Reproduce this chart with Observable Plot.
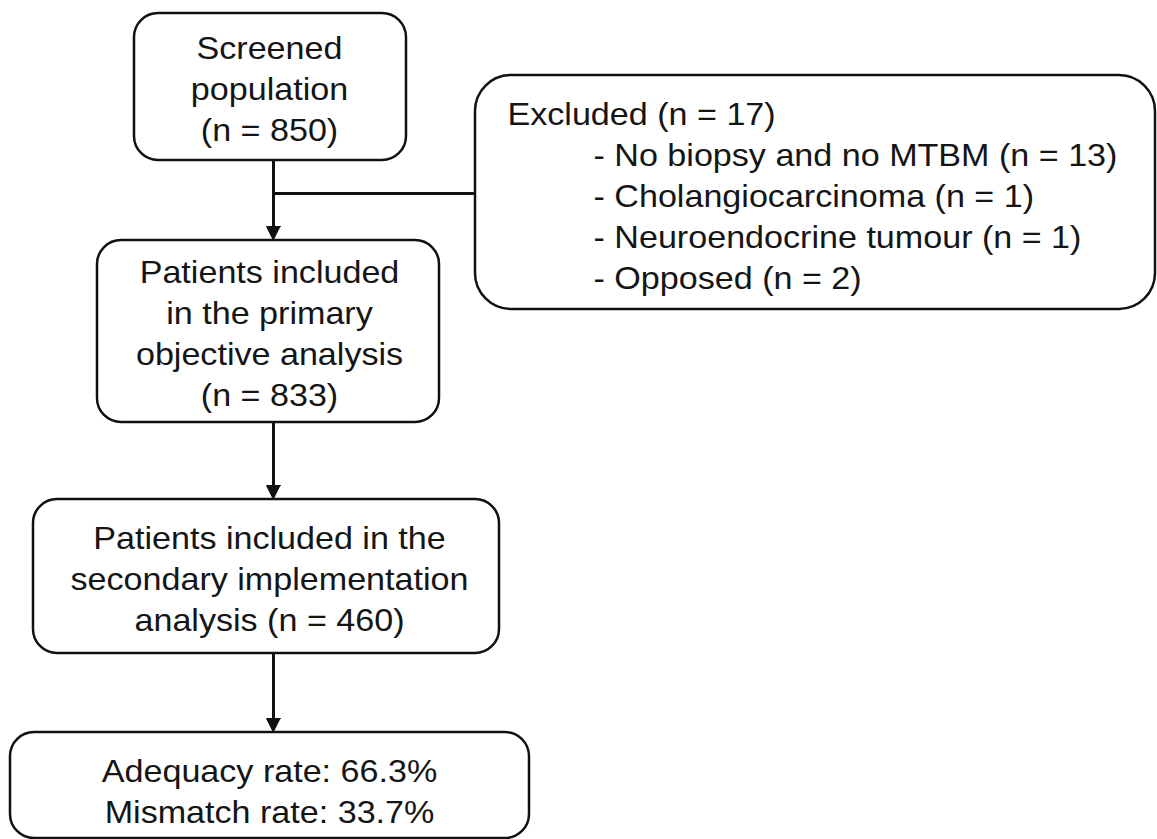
<!DOCTYPE html>
<html><head><meta charset="utf-8">
<script src="https://cdn.jsdelivr.net/npm/d3@7"></script>
<script src="https://cdn.jsdelivr.net/npm/@observablehq/plot@0.6"></script>
<style>body{margin:0;background:#fff} svg{display:block}</style>
</head><body><div id="chart"></div>
<script>
// ---- values ----
const screenedN = 850;
const primaryN = 833;
const secondaryN = 460;
const adequacyRate = 66.3;
const mismatchRate = 33.7;
const excludedN = 17;
const exclusionReasons = ["No biopsy and no MTBM", "Cholangiocarcinoma", "Neuroendocrine tumour", "Opposed"];
const exclusionCounts = [13, 1, 1, 2];

// ---- node labels ----
const nodeIds = ["screened", "primary", "secondary", "rates"];
const nodeLabels = [
  `Screened\npopulation\n(n = ${screenedN})`,
  `Patients included\nin the primary\nobjective analysis\n(n = ${primaryN})`,
  `Patients included in the\nsecondary implementation\nanalysis (n = ${secondaryN})`,
  `Adequacy rate: ${adequacyRate}%\nMismatch rate: ${mismatchRate}%`
];
const excludedHeader = `Excluded (n = ${excludedN})`;
const excludedLines = exclusionReasons.map((r, i) => `- ${r} (n = ${exclusionCounts[i]})`).join("\n");

// ---- layout (diagram coordinates) ----
const nodeX1 = [134, 97, 33, 10];
const nodeX2 = [406, 439, 499, 529];
const nodeY1 = [13, 240, 499, 732];
const nodeY2 = [160, 422, 653, 838];
const nodeTextTop = [29, 253, 519, 752];
const excludedBox = {x1: 475, x2: 1155, y1: 75, y2: 309};
const spineX = 273;
const branchY = 193;

const nodes = nodeIds.map((id, i) => ({
  id, label: nodeLabels[i], x1: nodeX1[i], x2: nodeX2[i], y1: nodeY1[i], y2: nodeY2[i],
  cx: spineX - 4, top: nodeTextTop[i]
}));
const arrows = [0, 1, 2].map(i => ({x: spineX, y1: nodeY2[i], y2: nodeY1[i + 1]}));
const headLen = 14, headHalf = 7;
const heads = arrows.flatMap((a, k) => [
  {k, x: a.x, y: a.y2},
  {k, x: a.x - headHalf, y: a.y2 - headLen},
  {k, x: a.x + headHalf, y: a.y2 - headLen}
]);
const branch = [{x1: spineX, x2: excludedBox.x1, y: branchY}];

const fontFamily = "'Liberation Sans', Arial, Helvetica, sans-serif";
const fs = 31, lh = 41 / 31;

const chart = Plot.plot({
  width: 1157, height: 839,
  margin: 0,
  x: {domain: [0, 1157], range: [0, 1157], axis: null},
  y: {domain: [0, 839], range: [0, 839], axis: null},
  style: {background: "white", fontFamily},
  marks: [
    Plot.link(arrows, {x1: "x", x2: "x", y1: "y1", y2: d => d.y2 - headLen + 1, stroke: "#111", strokeWidth: 3}),
    Plot.link(branch, {x1: "x1", x2: "x2", y1: "y", y2: "y", stroke: "#111", strokeWidth: 3}),
    Plot.line(heads, {x: "x", y: "y", z: "k", fill: "#111", stroke: "#111", strokeWidth: 1}),
    Plot.rect(nodes, {x1: "x1", x2: "x2", y1: "y1", y2: "y2", rx: 24, fill: "white", stroke: "#111", strokeWidth: 2.5}),
    Plot.rect([excludedBox], {x1: "x1", x2: "x2", y1: "y1", y2: "y2", rx: 36, fill: "white", stroke: "#111", strokeWidth: 2.5}),
    Plot.text(nodes, {x: "cx", y: "top", text: "label", textAnchor: "middle", lineAnchor: "top",
      fontSize: fs, lineHeight: lh, fill: "#151515"}),
    Plot.text([excludedHeader], {x: () => 507, y: () => 95, text: d => d, textAnchor: "start", lineAnchor: "top",
      fontSize: fs, lineHeight: lh, fill: "#151515"}),
    Plot.text([excludedLines], {x: () => 593, y: () => 136, text: d => d, textAnchor: "start", lineAnchor: "top",
      fontSize: fs, lineHeight: lh, fill: "#151515"})
  ]
});
document.getElementById("chart").appendChild(chart);

// widen glyphs slightly to match the reference's horizontally stretched type
const sx = 1.1;
d3.select(chart).selectAll("text").each(function () {
  const t = this.getAttribute("transform");
  if (t && t.includes("translate")) {
    this.setAttribute("transform", t + ` scale(${sx},1)`);
  } else {
    const x = +this.getAttribute("x") || 0, y = +this.getAttribute("y") || 0;
    this.setAttribute("transform", `translate(${x},${y}) scale(${sx},1) translate(${-x},${-y})`);
  }
});
</script>
</body></html>
